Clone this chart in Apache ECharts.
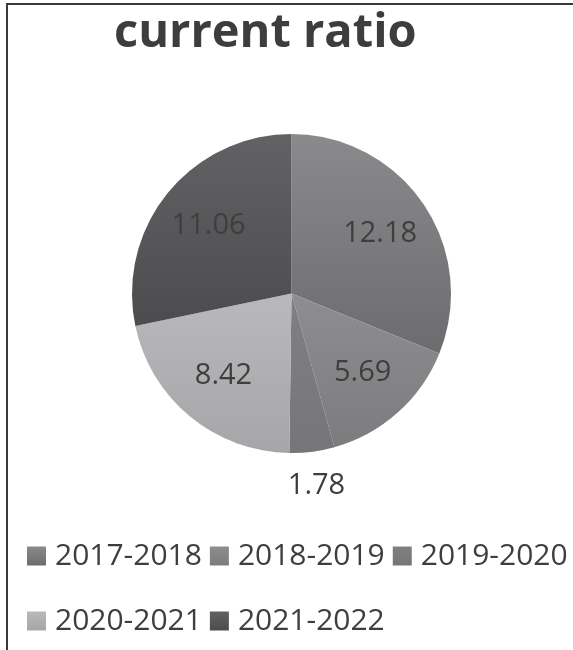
<!DOCTYPE html>
<html>
<head>
<meta charset="utf-8">
<script src="https://cdn.jsdelivr.net/npm/echarts@6/dist/echarts.min.js"></script>
<style>
  html, body { margin: 0; padding: 0; background: #ffffff; }
  #frame {
    position: absolute; left: 6px; top: 3px; width: 567px; height: 647px;
    border-left: 2px solid #3a3a3a; border-top: 2px solid #3a3a3a;
  }
  #chart { position: absolute; left: 0; top: 0; width: 573px; height: 650px; }
</style>
</head>
<body>
<div id="frame"></div>
<div id="chart"></div>
<script>
// Current ratio by financial year
const categories = ['2017-2018', '2018-2019', '2019-2020', '2020-2021', '2021-2022'];
const ratios = [12.18, 5.69, 1.78, 8.42, 11.06];
// top / bottom shades of each slice
const shadeTop = ['#8a8a8c', '#8e8e90', '#808082', '#b9b9bb', '#626264'];
const shadeBottom = ['#6c6c6e', '#7c7c7e', '#767678', '#a6a6a8', '#4c4c4e'];

const CX = 291.5, CY = 293.5, R = 159.5;
const FONT = '"Open Sans", "DejaVu Sans", sans-serif';

const total = ratios.reduce((a, b) => a + b, 0);
const midAngles = [];
let acc = 0;
ratios.forEach(v => {
  midAngles.push((acc + v / 2) / total * Math.PI * 2);
  acc += v;
});

function shade(i) {
  return new echarts.graphic.LinearGradient(0, 0, 0, 1, [
    { offset: 0, color: shadeTop[i] },
    { offset: 1, color: shadeBottom[i] }
  ]);
}

const pieData = categories.map((name, i) => ({
  name: name,
  value: ratios[i],
  itemStyle: { color: shade(i) }
}));

const chart = echarts.init(document.getElementById('chart'), null, { renderer: 'canvas' });

const legendText = {
  fontFamily: FONT, fontSize: 30, color: '#3e3e3e'
};

chart.setOption({
  backgroundColor: 'transparent',
  animation: false,
  title: {
    text: 'current ratio',
    left: 109,
    top: 5,
    textStyle: { fontFamily: FONT, fontSize: 47, fontWeight: 'bold', color: '#3d3d3f' }
  },
  legend: [
    {
      data: categories.slice(0, 3),
      left: 27, top: 541, padding: 0,
      orient: 'horizontal',
      itemWidth: 19, itemHeight: 19, itemGap: 8,
      icon: 'rect',
      textStyle: Object.assign({ padding: [0, 0, 9, 4] }, legendText)
    },
    {
      data: categories.slice(3),
      left: 27, top: 606, padding: 0,
      orient: 'horizontal',
      itemWidth: 19, itemHeight: 19, itemGap: 8,
      icon: 'rect',
      textStyle: Object.assign({ padding: [8, 0, 0, 4] }, legendText)
    }
  ],
  series: [{
    type: 'pie',
    center: [CX, CY],
    radius: R,
    startAngle: 90,
    clockwise: true,
    avoidLabelOverlap: false,
    itemStyle: { borderWidth: 0 },
    label: {
      show: true,
      position: 'inside',
      formatter: p => p.value.toFixed(2),
      fontFamily: FONT,
      fontSize: 29,
      color: '#3e3e3e'
    },
    labelLine: { show: false },
    labelLayout: function (p) {
      const i = p.dataIndex;
      const k = ratios[i] / total < 0.05 ? 1.215 : 0.67;
      const a = midAngles[i];
      return {
        x: CX + k * R * Math.sin(a),
        y: CY - k * R * Math.cos(a),
        align: 'center',
        verticalAlign: 'middle',
        hideOverlap: false
      };
    },
    emphasis: { disabled: true },
    data: pieData
  }]
});
</script>
</body>
</html>
